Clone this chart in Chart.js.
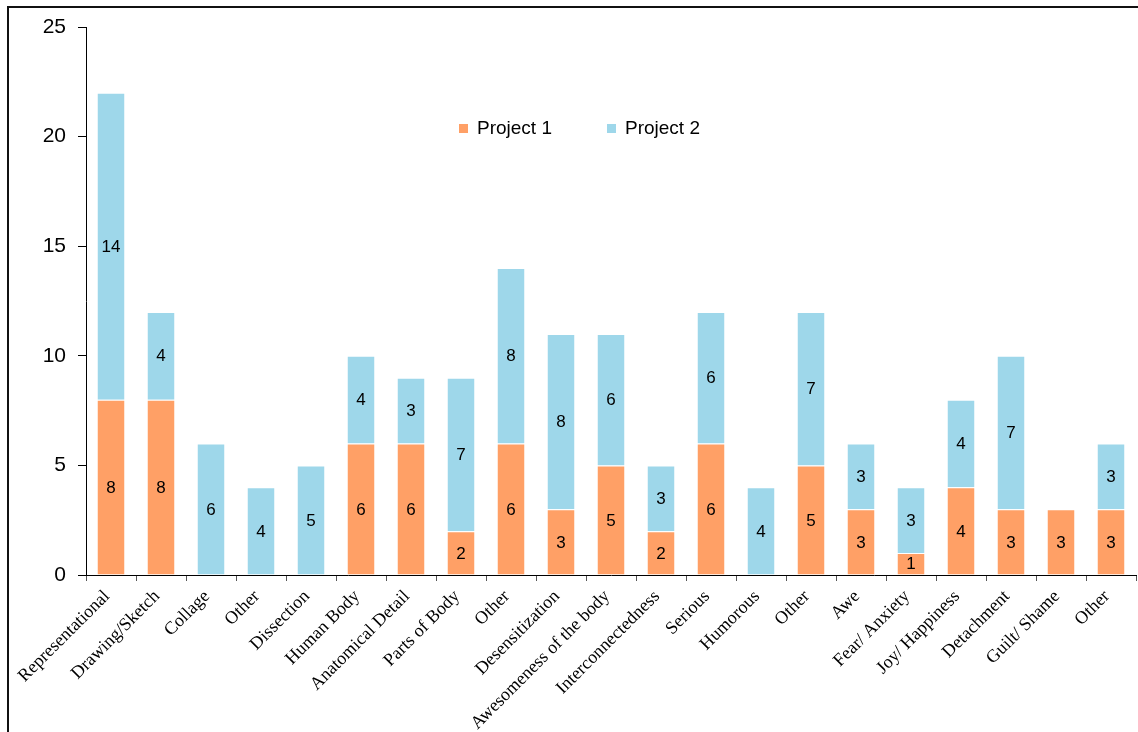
<!DOCTYPE html>
<html>
<head>
<meta charset="utf-8">
<script src="https://cdn.jsdelivr.net/npm/chart.js@4.4.1/dist/chart.umd.min.js"></script>
<style>
  html, body { margin: 0; padding: 0; background: #fff; overflow: hidden; }
  #wrap { position: relative; width: 1138px; height: 732px; }
  #frame { position: absolute; left: 7px; top: 6px; width: 1200px; height: 800px;
           border-left: 2px solid #111; border-top: 2px solid #111; pointer-events: none; }
</style>
</head>
<body>
<div id="wrap">
  <canvas id="chart"></canvas>
  <div id="frame"></div>
</div>
<script>
// categories along the x axis
const categories = [
  'Representational', 'Drawing/Sketch', 'Collage', 'Other', 'Dissection',
  'Human Body', 'Anatomical Detail', 'Parts of Body', 'Other', 'Desensitization',
  'Awesomeness of the body', 'Interconnectedness', 'Serious', 'Humorous', 'Other',
  'Awe', 'Fear/ Anxiety', 'Joy/ Happiness', 'Detachment', 'Guilt/ Shame', 'Other'
];

// counts per project
const project1 = [8, 8, 0, 0, 0, 6, 6, 2, 6, 3, 5, 2, 6, 0, 5, 3, 1, 4, 3, 3, 3];
const project2 = [14, 4, 6, 4, 5, 4, 3, 7, 8, 8, 6, 3, 6, 4, 7, 3, 3, 4, 7, 0, 3];

const seriesNames = ['Project 1', 'Project 2'];
const seriesColors = ['#FFA066', '#9ED7EA'];

const yTicks = [0, 5, 10, 15, 20, 25];

const SANS = '"Liberation Sans", Arial, sans-serif';
const SERIF = '"Liberation Serif", "Times New Roman", serif';

// numbers in the middle of each bar piece
const valueLabels = {
  id: 'valueLabels',
  afterDatasetsDraw(chart) {
    const ctx = chart.ctx;
    ctx.save();
    ctx.font = '17px ' + SANS;
    ctx.fillStyle = '#000';
    ctx.textAlign = 'center';
    ctx.textBaseline = 'middle';
    chart.data.datasets.forEach((ds, i) => {
      chart.getDatasetMeta(i).data.forEach((bar, j) => {
        const v = ds.data[j];
        if (!v) return;
        const mid = (bar.y + bar.base) / 2;
        ctx.fillText(String(v), bar.x, mid + 1);
      });
    });
    ctx.restore();
  }
};

// legend sits inside the plot
const innerLegend = {
  id: 'innerLegend',
  afterDraw(chart) {
    const ctx = chart.ctx;
    const spots = [459, 607];
    ctx.save();
    ctx.font = '19px ' + SANS;
    ctx.textBaseline = 'middle';
    seriesNames.forEach((name, i) => {
      ctx.fillStyle = seriesColors[i];
      ctx.fillRect(spots[i], 124, 9, 9);
      ctx.fillStyle = '#000';
      ctx.fillText(name, spots[i] + 18, 129);
    });
    ctx.restore();
  }
};

new Chart(document.getElementById('chart'), {
  type: 'bar',
  data: {
    labels: categories,
    datasets: [
      { label: seriesNames[0], data: project1, backgroundColor: seriesColors[0],
        borderColor: '#fff', borderWidth: 1, categoryPercentage: 1, barPercentage: 0.57 },
      { label: seriesNames[1], data: project2, backgroundColor: seriesColors[1],
        borderColor: '#fff', borderWidth: 1, categoryPercentage: 1, barPercentage: 0.57 }
    ]
  },
  options: {
    responsive: true,
    maintainAspectRatio: false,
    animation: false,
    layout: { padding: { top: 27, right: 2, left: 0, bottom: 0 } },
    plugins: {
      legend: { display: false },
      tooltip: { enabled: false }
    },
    scales: {
      x: {
        stacked: true,
        grid: { display: true, drawOnChartArea: false, drawTicks: true, tickLength: 6,
                color: '#555', offset: true },
        border: { display: true, color: '#000', width: 1 },
        ticks: {
          color: '#000', font: { family: SERIF, size: 18 },
          minRotation: 45, maxRotation: 45, autoSkip: false, padding: 5, labelOffset: -4
        },
        afterFit(scale) { scale.height = 157; }
      },
      y: {
        stacked: true,
        min: 0, max: 25,
        afterBuildTicks(scale) { scale.ticks = yTicks.map(v => ({ value: v })); },
        grid: { display: true, drawOnChartArea: false, drawTicks: true, tickLength: 8, color: '#000' },
        border: { display: true, color: '#000', width: 1 },
        ticks: { color: '#000', font: { family: SANS, size: 21 }, padding: 12 },
        afterFit(scale) { scale.width = 86; }
      }
    }
  },
  plugins: [valueLabels, innerLegend]
});
</script>
</body>
</html>
